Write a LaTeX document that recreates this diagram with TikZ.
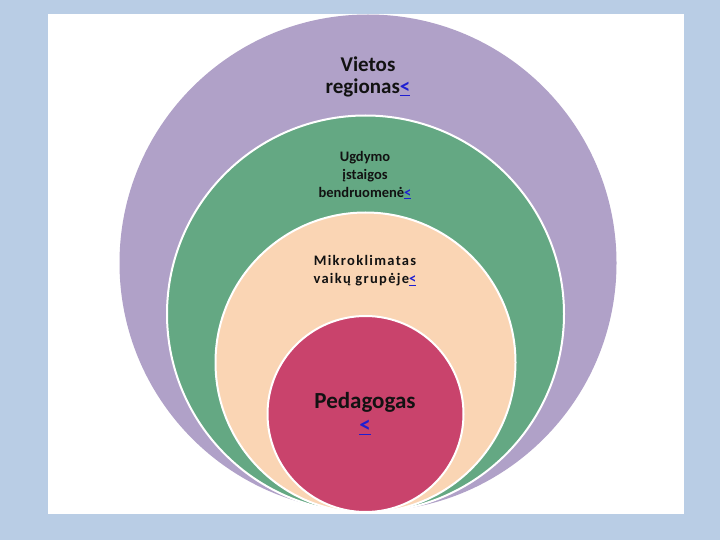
\documentclass[tikz,border=0pt]{standalone}
\usepackage{fontspec}
\setmainfont{Carlito}
\definecolor{bgblue}{RGB}{185,205,229}
\definecolor{ringpurple}{RGB}{176,161,200}
\definecolor{ringgreen}{RGB}{100,168,131}
\definecolor{ringpeach}{RGB}{250,213,180}
\definecolor{ringred}{RGB}{201,67,108}
\definecolor{linkblue}{RGB}{30,30,210}
\newcommand{\lnk}{\textcolor{linkblue}{\underline{<}}}
\begin{document}
\begin{tikzpicture}[x=1pt,y=-1pt,
  ring/.style={circle,draw=white,line width=2pt,inner sep=0pt},
  lbl/.style={align=center,inner sep=0pt,anchor=base,font=\bfseries,text=black!93}]
\useasboundingbox (0,0) rectangle (720,540);
\fill[bgblue] (0,0) rectangle (720,540);
\fill[white] (48,14) rectangle (684,514);
\node[ring,fill=ringpurple,draw=none,minimum size=497pt] (c1) at (368,263) {};
\node[ring,fill=ringgreen,minimum size=397pt] (c2) at (365.5,314) {};
\node[ring,fill=ringpeach,minimum size=300pt] (c3) at (365.5,362.5) {};
\node[ring,fill=ringred,minimum size=196pt] (c4) at (365.5,414) {};
\node[lbl,font=\bfseries\fontsize{21}{22}\selectfont] (t1) at (368,94) {Vietos\\regionas\lnk};
\node[lbl,font=\bfseries\fontsize{14.5}{18}\selectfont] (t2) at (365,197.3) {Ugdymo\\įstaigos\\bendruomenė\lnk};
\node[lbl,font=\bfseries\fontsize{14.5}{17.5}\selectfont\addfontfeature{LetterSpace=9}] (t3) at (365,283.3) {Mikroklimatas\\vaikų grupėje\lnk};
\node[lbl,font=\bfseries\fontsize{23}{24.5}\selectfont] (t4) at (365,432.7) {Pedagogas\\\lnk};
\end{tikzpicture}
\end{document}
